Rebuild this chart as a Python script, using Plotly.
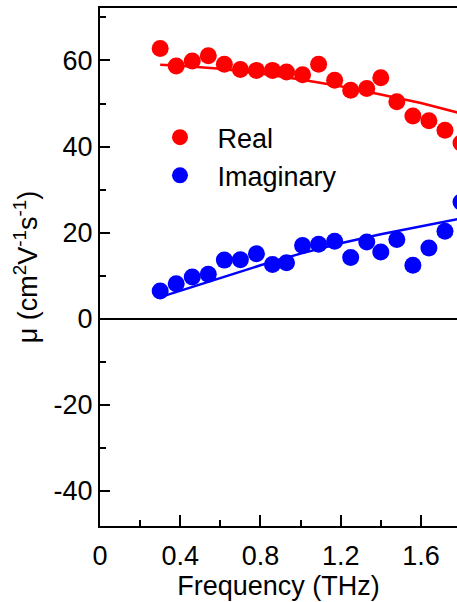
import plotly.graph_objects as go

# Data
freq = [0.30, 0.38, 0.46, 0.54, 0.62, 0.70, 0.78, 0.86, 0.93, 1.01,
        1.09, 1.17, 1.25, 1.33, 1.40, 1.48, 1.56, 1.64, 1.72, 1.80]
real_mu = [62.8, 58.7, 59.9, 61.1, 59.1, 57.9, 57.7, 57.7, 57.3, 56.7,
           59.1, 55.4, 53.1, 53.5, 56.0, 50.4, 47.1, 46.0, 43.8, 40.8]
imag_mu = [6.4, 8.1, 9.7, 10.3, 13.6, 13.7, 15.1, 12.6, 13.0, 17.0,
           17.3, 18.0, 14.2, 17.8, 15.5, 18.4, 12.4, 16.4, 20.3, 27.1]

fit_freq = [0.30, 0.40, 0.60, 0.80, 1.00, 1.20, 1.40, 1.60, 1.80]
fit_real = [59.0, 58.8, 58.1, 57.0, 55.6, 54.0, 52.1, 50.1, 47.7]
fit_imag = [5.0, 6.5, 9.5, 12.4, 15.1, 17.5, 19.6, 21.5, 23.3]

y_tickvals = [-40, -20, 0, 20, 40, 60]
y_ticktext = ["-40", "-20", "0", "20", "40", "60"]
x_tickvals = [0, 0.4, 0.8, 1.2, 1.6]
x_ticktext = ["0", "0.4", "0.8", "1.2", "1.6"]

FONT = "Liberation Sans, Arial, sans-serif"
RED = "#ff0000"
BLUE = "#0000ff"

fig = go.Figure()
fig.add_trace(go.Scatter(x=fit_freq, y=fit_real, mode="lines",
                         line=dict(color=RED, width=2.5), showlegend=False))
fig.add_trace(go.Scatter(x=fit_freq, y=fit_imag, mode="lines",
                         line=dict(color=BLUE, width=2.5), showlegend=False))
fig.add_trace(go.Scatter(x=freq, y=real_mu, mode="markers", name="Real",
                         marker=dict(color=RED, size=17)))
fig.add_trace(go.Scatter(x=freq, y=imag_mu, mode="markers", name="Imaginary",
                         marker=dict(color=BLUE, size=17)))

fig.update_layout(
    width=457, height=602,
    margin=dict(l=100, r=0, t=8, b=76),
    paper_bgcolor="white", plot_bgcolor="white",
    font=dict(family=FONT, size=27, color="black"),
    legend=dict(x=0.119, y=0.797, xanchor="left", yanchor="top",
                bgcolor="rgba(0,0,0,0)", font=dict(size=27),
                itemwidth=65, tracegroupgap=0),
    xaxis=dict(
        range=[0, 1.78], showgrid=False, zeroline=False,
        showline=True, linecolor="black", linewidth=2, mirror=True,
        ticks="inside", ticklen=11, tickwidth=2, tickcolor="black",
        tickvals=x_tickvals, ticktext=x_ticktext,
        tickfont=dict(size=27),
        ticklabelstandoff=5,
        minor=dict(dtick=0.2, ticks="inside", ticklen=6, tickwidth=2,
                   tickcolor="black", showgrid=False),
        title=dict(text="Frequency (THz)", font=dict(size=27), standoff=6),
    ),
    yaxis=dict(
        range=[-48.2, 72.2], showgrid=False,
        zeroline=True, zerolinecolor="black", zerolinewidth=1.5,
        showline=True, linecolor="black", linewidth=2,
        ticks="inside", ticklen=10, tickwidth=2, tickcolor="black",
        tickvals=y_tickvals, ticktext=y_ticktext,
        tickfont=dict(size=27),
        ticklabelstandoff=0,
        minor=dict(dtick=10, ticks="inside", ticklen=6, tickwidth=2,
                   tickcolor="black", showgrid=False),
        title=dict(text="μ (cm<sup>2</sup>V<sup>-1</sup>s<sup>-1</sup>)",
                   font=dict(size=27), standoff=8),
    ),
)

fig.write_html("out.html")
